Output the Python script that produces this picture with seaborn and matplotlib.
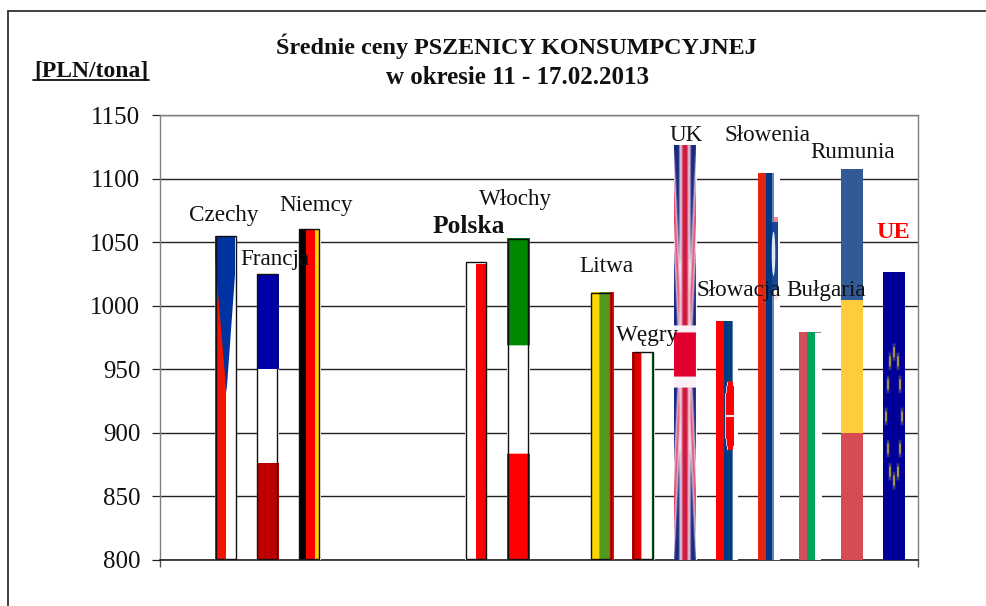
import numpy as np
import pandas as pd
import matplotlib
matplotlib.use("Agg")
import matplotlib.pyplot as plt
from matplotlib.lines import Line2D
from matplotlib.patches import Rectangle
import seaborn as sns

# ---- data ----
slots = ["_0", "Czechy", "Francja", "Niemcy", "_4", "_5", "_6", "Polska", "Włochy", "_9",
         "Litwa", "Węgry", "UK", "Słowacja", "Słowenia", "Bułgaria", "Rumunia", "UE"]
countries = ["Czechy", "Francja", "Niemcy", "Polska", "Włochy", "Litwa", "Węgry",
             "UK", "Słowacja", "Słowenia", "Bułgaria", "Rumunia", "UE"]
prices = [1055, 1025, 1060.5, 1035, 1053, 1010.5, 963.5, 1126, 988, 1104.5, 979, 1107.5, 1026]
yticks = [800, 850, 900, 950, 1000, 1050, 1100, 1150]
outlined = ["Czechy", "Francja", "Niemcy", "Polska", "Włochy", "Litwa", "Węgry"]
title_lines = ["Średnie ceny PSZENICY KONSUMPCYJNEJ", "w okresie 11 - 17.02.2013"]
unit_label = "[PLN/tona]"

# ---- layout (pixels of the 986x606 picture) ----
W, H = 986, 606
AX_L, AX_R, AX_T, AX_B = 160, 918, 115.5, 560
PX_SLOT = 41.75
label_pos = {"Czechy": (224, 221), "Francja": (275, 265), "Niemcy": (316, 211), "Polska": (469, 233),
             "Włochy": (516, 205), "Litwa": (606, 272), "Węgry": (648, 341), "UK": (686, 141),
             "Słowacja": (739, 296), "Słowenia": (767, 141), "Bułgaria": (826, 296),
             "Rumunia": (853, 158), "UE": (893, 238)}

sns.set_theme(style="white")
plt.rcParams["font.family"] = ["Liberation Serif", "DejaVu Serif"]

fig = plt.figure(figsize=(W / 100, H / 100), dpi=100, facecolor="white")
ax = fig.add_axes([AX_L / W, 1 - AX_B / H, (AX_R - AX_L) / W, (AX_B - AX_T) / H])
df = pd.DataFrame({"kraj": countries, "cena": prices})
sns.barplot(data=df, x="kraj", y="cena", order=slots, color="white", saturation=1,
            width=22 / PX_SLOT, linewidth=0, ax=ax)
xmin, xmax = 1 - 66 / PX_SLOT, 1 + 692 / PX_SLOT
ax.set_xlim(xmin, xmax)
ax.set_ylim(800, 1150)
ax.set_yticks(yticks)
ax.set_xticks([xmin, xmax], ["", ""])
ax.set_xlabel("")
ax.set_ylabel("")
ax.yaxis.grid(True, color="#222222", lw=1.0)
ax.xaxis.grid(False)
ax.set_axisbelow(True)
ax.tick_params(axis="y", length=5.8, width=0.9, color="#222222", pad=8.5, labelsize=18, labelcolor="#111111", left=True)
ax.tick_params(axis="x", length=5, width=1.0, color="#555555", bottom=True)
for s in ["left", "right", "top"]:
    ax.spines[s].set_color("#808080")
    ax.spines[s].set_linewidth(1.0)
ax.spines["bottom"].set_color("#111111")
ax.spines["bottom"].set_linewidth(1.1)

scale = (AX_B - AX_T) / 350.0  # px per PLN


def stripes(h, cols):
    """cols: list of (start, end, rgb) in image columns; rest stays white"""
    im = np.ones((h, 22, 3)) * 255.0
    for a, b, c in cols:
        im[:, a:b] = c
    return im


def hbands(h, val, bands):
    """bands: list of (upper value, lower value, rgb), highest first"""
    im = np.ones((h, 22, 3)) * 255.0
    rows = val - (np.arange(h) + 0.5) / scale
    for top, low, c in bands:
        im[(rows <= top) & (rows > low)] = c
    return im


def y_row(y, val):
    # picture y (px) to row of a flag whose top is at value val
    return int(round(y - (AX_B - (val - 800) * scale)))


def row_y(h, val):
    return (AX_B - (val - 800) * scale) + np.arange(h) + 0.5


def flag(name, val):
    h = int(round((val - 800) * scale))
    if name == "Czechy":
        im = stripes(h, [(0, 11, (242, 20, 0)), (11, 20, (255, 255, 255))])
        ys = row_y(h, val)
        blue = np.array((0, 51, 160.0))
        for r, y in enumerate(ys):
            if y > 393:
                break
            l = max(0.0, (y - 258) / (393 - 258) * 11.5)
            rr = 20 - max(0.0, (y - 275) / (393 - 275) * 8.5)
            for c in range(20):
                cov = max(0.0, min(c + 1, rr) - max(c, l))
                im[r, c] = im[r, c] * (1 - cov) + blue * cov
        return im
    if name == "Francja":
        im = hbands(h, val, [(val, 950, (0, 0, 170)), (950, 876, (255, 255, 255)), (876, 0, (190, 0, 0))])
        return im
    if name == "Niemcy":
        return stripes(h, [(0, 7, (0, 0, 0)), (7, 16, (255, 0, 0)), (16, 21, (255, 210, 0))])
    if name == "Polska":
        im = stripes(h, [(11, 21, (255, 0, 0))])
        im[:3, 11:] = 255
        return im
    if name == "Włochy":
        return hbands(h, val, [(val, 969, (0, 136, 0)), (969, 884, (255, 255, 255)), (884, 0, (255, 0, 0))])
    if name == "Litwa":
        return stripes(h, [(0, 8, (255, 215, 0)), (8, 18, (80, 155, 30)), (18, 22, (255, 0, 0))])
    if name == "Węgry":
        return stripes(h, [(0, 9, (225, 0, 0)), (9, 19, (255, 255, 255)), (19, 21, (0, 110, 40))])
    if name == "UK":
        ss = 6
        xs = (np.arange(21 * ss) + 0.5) / (21 * ss) * 2 - 1
        ys = row_y(h, val)
        u, y = np.meshgrid(np.abs(xs), ys)
        dv = np.abs(y - 357) / 210.0
        navy, pale, red = (25, 40, 130), (245, 225, 238), (205, 25, 65)
        sub = np.empty((h, 21 * ss, 3))
        sub[:] = navy
        ud = 0.45 + 0.55 * (dv - 0.15) / 0.60
        d = np.abs(u - ud)
        sub[d < 0.22] = pale
        sub[d < 0.09] = (225, 60, 100)
        sub[u < 0.50] = pale
        sub[u < 0.27] = red
        sub[np.abs(y - 357) < 31] = (250, 240, 245)
        sub[np.abs(y - 355) < 22] = (225, 0, 45)
        sub = sub.reshape(h, 21, ss, 3).mean(axis=2)
        # soft edges, as in a stretched picture
        sub = (sub + np.roll(sub, 1, axis=1) * 0.25 + np.roll(sub, -1, axis=1) * 0.25) / 1.5
        im = np.ones((h, 22, 3)) * 255.0
        im[:, :21] = sub
        return im
    if name == "Słowacja":
        im = stripes(h, [(0, 8, (255, 0, 0)), (8, 16, (0, 60, 130)), (16, 17, (90, 130, 180))])
        a, b = y_row(381, val), y_row(450, val)
        cy, hy = (a + b) / 2, (b - a) / 2
        for r in range(a, b):
            n = abs(r - cy) / hy
            left = 10 + 2.5 * n ** 4
            right = 18 - 1.5 * n ** 8
            im[r, int(round(left - 1)):int(round(left))] = (225, 190, 205)
            im[r, int(round(left)):int(round(right))] = (255, 0, 0)
            if abs(r - cy) < 1.2:
                im[r, 10:18] = (255, 235, 235)
        return im
    if name == "Słowenia":
        im = stripes(h, [(0, 8, (226, 38, 18)), (8, 14, (0, 56, 130)), (14, 16, (95, 135, 195))])
        ys = row_y(h, val)
        pink, blue, pale = np.array((240, 140, 140.0)), np.array((25, 70, 150.0)), np.array((225, 232, 242.0))
        for r, y in enumerate(ys):
            if 217 <= y < 222:
                im[r, 16:20] = pink
            elif 222 <= y < 290:
                im[r, 14:20] = blue
                n = abs(y - 254) / 22.0
                if n < 1:
                    w = 3.6 * (1 - n ** 2) ** 0.5
                    for c in range(13, 19):
                        cov = max(0.0, min(c + 1, 15.5 + w / 2) - max(c, 15.5 - w / 2))
                        im[r, c] = im[r, c] * (1 - cov) + pale * cov
            elif 290 <= y < 300:
                im[r, 16:20] = (250, 228, 228)
        return im
    if name == "Bułgaria":
        im = stripes(h, [(0, 8, (210, 80, 90)), (8, 16, (0, 165, 90))])
        im[0:1, 16:22] = (120, 150, 130)
        return im
    if name == "Rumunia":
        return hbands(h, val, [(val, 1004, (50, 90, 150)), (1004, 900, (255, 205, 60)), (900, 0, (215, 75, 85))])
    if name == "UE":
        im = np.ones((h, 22, 3)) * (0.0, 0.0, 153.0)
        cy = y_row(417, val)
        for k in range(12):
            ang = np.radians(30 * k)
            cx = 10.5 + 7.5 * np.cos(ang)
            yy = cy + 64 * np.sin(ang)
            c = int(round(cx - 0.5))
            r = int(round(yy))
            im[r - 9:r + 9, c - 1:c + 3] = (25, 25, 145)
            im[r - 8:r + 8, c:c + 2] = (65, 60, 125)
            im[r - 5:r + 5, c:c + 2] = (170, 145, 60)
        return im
    raise KeyError(name)


# The flags sit on the seaborn bars, and take their place from them
bar_of = {}
for p in ax.patches:
    idx = int(round(p.get_x() + p.get_width() / 2))
    bar_of[slots[idx]] = p

for name, val in zip(countries, prices):
    p = bar_of[name]
    x0, w = p.get_x(), p.get_width()
    im = flag(name, val).clip(0, 255).astype(np.uint8)
    ax.imshow(im, extent=(x0, x0 + w, 800, val), aspect="auto", origin="upper",
              interpolation="bilinear", zorder=3)
    if name in outlined:
        ax.add_patch(Rectangle((x0 + 0.012, 800.8), w * 20 / 22, val - 800.8, fill=False,
                               ec="#111111", lw=1.0, zorder=4))
ax.set_xlim(xmin, xmax)
ax.set_ylim(800, 1150)


def ftext(x, y, s, **kw):
    return fig.text(x / W, 1 - y / H, s, **kw)


for name in countries:
    x, y = label_pos[name]
    kw = dict(fontsize=16.7, color="#111111")
    if name == "Polska":
        kw = dict(fontsize=18.3, fontweight="bold", color="#111111")
    if name == "UE":
        kw = dict(fontsize=17.6, fontweight="bold", color="#ff0000")
    ftext(x, y, name, ha="center", va="baseline", zorder=5, **kw)

ftext(516, 54, title_lines[0], ha="center", va="baseline", fontsize=17.4, fontweight="bold", color="#111111")
ftext(517, 83.5, title_lines[1], ha="center", va="baseline", fontsize=18, fontweight="bold", color="#111111")
ftext(91, 76, unit_label, ha="center", va="baseline", fontsize=17, fontweight="bold", color="#111111")

fig.add_artist(Line2D([33 / W, 149 / W], [1 - 79.5 / H] * 2, color="#111111", lw=1.3))
fig.add_artist(Line2D([8 / W, 8 / W], [0, 1 - 11 / H], color="#333333", lw=1.3))
fig.add_artist(Line2D([8 / W, 1], [1 - 11 / H] * 2, color="#333333", lw=1.3))

fig.savefig("out.png", dpi=100, facecolor="white")
